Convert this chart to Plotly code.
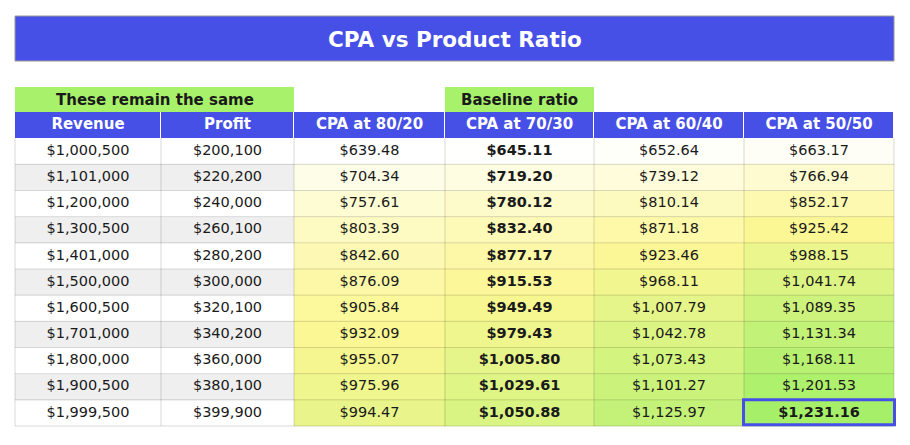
import plotly.graph_objects as go
import numpy as np

# ---------------- data ----------------
title_text = "CPA vs Product Ratio"
group_label_same = "These remain the same"
group_label_base = "Baseline ratio"
columns = ["Revenue", "Profit", "CPA at 80/20", "CPA at 70/30", "CPA at 60/40", "CPA at 50/50"]

revenue = [1000500, 1101000, 1200000, 1300500, 1401000, 1500000, 1600500, 1701000, 1800000, 1900500, 1999500]
profit = [200100, 220200, 240000, 260100, 280200, 300000, 320100, 340200, 360000, 380100, 399900]
cpa_80_20 = [639.48, 704.34, 757.61, 803.39, 842.60, 876.09, 905.84, 932.09, 955.07, 975.96, 994.47]
cpa_70_30 = [645.11, 719.20, 780.12, 832.40, 877.17, 915.53, 949.49, 979.43, 1005.80, 1029.61, 1050.88]
cpa_60_40 = [652.64, 739.12, 810.14, 871.18, 923.46, 968.11, 1007.79, 1042.78, 1073.43, 1101.27, 1125.97]
cpa_50_50 = [663.17, 766.94, 852.17, 925.42, 988.15, 1041.74, 1089.35, 1131.34, 1168.11, 1201.53, 1231.16]

# ---------------- styling / layout ----------------
W, H = 910, 445
BLUE = "#4650e6"
GREEN = "#a8f26b"
TXT = "#1a1a1a"
FONT = "DejaVu Sans"
COL_W = [146, 133, 151, 149, 150, 150]          # column widths (px)
ROW_H = 26.17                                  # row height (px)

edges = np.concatenate([[0], np.cumsum(COL_W)]).astype(float)
centers = (edges[:-1] + edges[1:]) / 2
n = len(revenue)
rows = np.arange(n)

# plot area geometry (page px: body has 8px margin)
L, T = 5, 104
PAD_X = 2
PW = edges[-1] + 2 * PAD_X
PAD_Y = 3 / ROW_H
PH = (n + 1 + PAD_Y) * ROW_H
R = W - L - PW
B = H - T - PH

def paper_x(px):
    return (px - L) / PW

def paper_y(py):
    return (T + PH - py) / PH

all_cpa = np.array(cpa_80_20 + cpa_70_30 + cpa_60_40 + cpa_50_50)
vmin, vmid, vmax = all_cpa.min(), np.percentile(all_cpa, 50), all_cpa.max()
mid_pos = (vmid - vmin) / (vmax - vmin)
cpa_scale = [[0, "#ffffff"], [mid_pos, "#fcf794"], [1, "#a6f069"]]

def money0(v):
    return "${:,.0f}".format(v)

def money2(v):
    return "${:,.2f}".format(v)

fig = go.Figure()

row_edges = np.arange(-0.5, n, 1.0)

# striped Revenue / Profit columns
stripe_z = [[i % 2, i % 2] for i in rows]
fig.add_trace(go.Heatmap(
    z=stripe_z, x=edges[:3], y=row_edges,
    colorscale=[[0, "#ffffff"], [1, "#efefef"]], zmin=0, zmax=1,
    showscale=False, hoverinfo="skip"))

# CPA colour scale
cpa_cols = [cpa_80_20, cpa_70_30, cpa_60_40, cpa_50_50]
cpa_z = np.array(cpa_cols).T
fig.add_trace(go.Heatmap(
    z=cpa_z, x=edges[2:], y=row_edges,
    colorscale=cpa_scale, zmin=vmin, zmax=vmax,
    showscale=False, hoverinfo="skip"))

# header row
fig.add_trace(go.Heatmap(
    z=[[0] * len(columns)], x=edges, y=[-1.5, -0.5],
    colorscale=[[0, BLUE], [1, BLUE]], xgap=1,
    showscale=False, hoverinfo="skip"))

# grid lines
gx, gy = [], []
for yv in np.arange(0.5, n, 1.0):
    gx += [edges[0], edges[-1], None]
    gy += [yv, yv, None]
for xv in edges:
    gx += [xv, xv, None]
    gy += [-0.5, n - 0.5, None]
fig.add_trace(go.Scatter(x=gx, y=gy, mode="lines",
                         line=dict(color="rgba(0,0,0,0.15)", width=1),
                         hoverinfo="skip", showlegend=False))

# header text
fig.add_trace(go.Scatter(
    x=centers, y=[-1] * len(columns), mode="text",
    text=["<b>" + c + "</b>" for c in columns],
    textfont=dict(family=FONT, size=15, color="white"),
    hoverinfo="skip", showlegend=False))

# cell text
col_texts = [
    [money0(v) for v in revenue],
    [money0(v) for v in profit],
    [money2(v) for v in cpa_80_20],
    ["<b>" + money2(v) + "</b>" for v in cpa_70_30],
    [money2(v) for v in cpa_60_40],
    [money2(v) for v in cpa_50_50],
]
col_texts[5][-1] = "<b>" + col_texts[5][-1] + "</b>"
for ci, texts in enumerate(col_texts):
    fig.add_trace(go.Scatter(
        x=[centers[ci]] * n, y=rows, mode="text", text=texts,
        textfont=dict(family=FONT, size=14.5, color=TXT),
        hoverinfo="skip", showlegend=False))

shapes = []
annotations = []

# title bar (page px)
shapes.append(dict(type="rect", xref="paper", yref="paper",
                   x0=paper_x(7), x1=paper_x(886), y0=paper_y(53), y1=paper_y(8),
                   fillcolor=BLUE, line=dict(color="#999999", width=1), layer="below"))
annotations.append(dict(xref="paper", yref="paper", x=paper_x(446.5), y=paper_y(31),
                        text="<b>" + title_text + "</b>", showarrow=False,
                        font=dict(family=FONT, size=21.5, color="white"),
                        xanchor="center", yanchor="middle"))

# group labels above header
for c0, c1, label in [(0, 2, group_label_same), (3, 4, group_label_base)]:
    x0p, x1p = L + PAD_X + edges[c0], L + PAD_X + edges[c1]
    shapes.append(dict(type="rect", xref="paper", yref="paper",
                       x0=paper_x(x0p), x1=paper_x(x1p), y0=paper_y(104), y1=paper_y(79),
                       fillcolor=GREEN, line=dict(width=0), layer="below"))
    annotations.append(dict(xref="paper", yref="paper", x=paper_x((x0p + x1p) / 2), y=paper_y(91.5),
                            text="<b>" + label + "</b>", showarrow=False,
                            font=dict(family=FONT, size=15, color=TXT),
                            xanchor="center", yanchor="middle"))

# highlight the largest CPA
shapes.append(dict(type="rect", xref="x", yref="y",
                   x0=edges[5] - 0.5, x1=edges[6] + 0.5, y0=n - 1.5, y1=n - 0.55,
                   fillcolor="rgba(0,0,0,0)", line=dict(color=BLUE, width=3)))

fig.update_layout(
    width=W, height=H,
    margin=dict(l=L, r=R, t=T, b=B, pad=0),
    paper_bgcolor="white",
    plot_bgcolor="white",
    shapes=shapes,
    annotations=annotations,
    showlegend=False,
    xaxis=dict(range=[-PAD_X, edges[-1] + PAD_X], visible=False, fixedrange=True),
    yaxis=dict(range=[n - 0.5 + PAD_Y, -1.5], visible=False, fixedrange=True),
)

fig.write_html("out.html")
